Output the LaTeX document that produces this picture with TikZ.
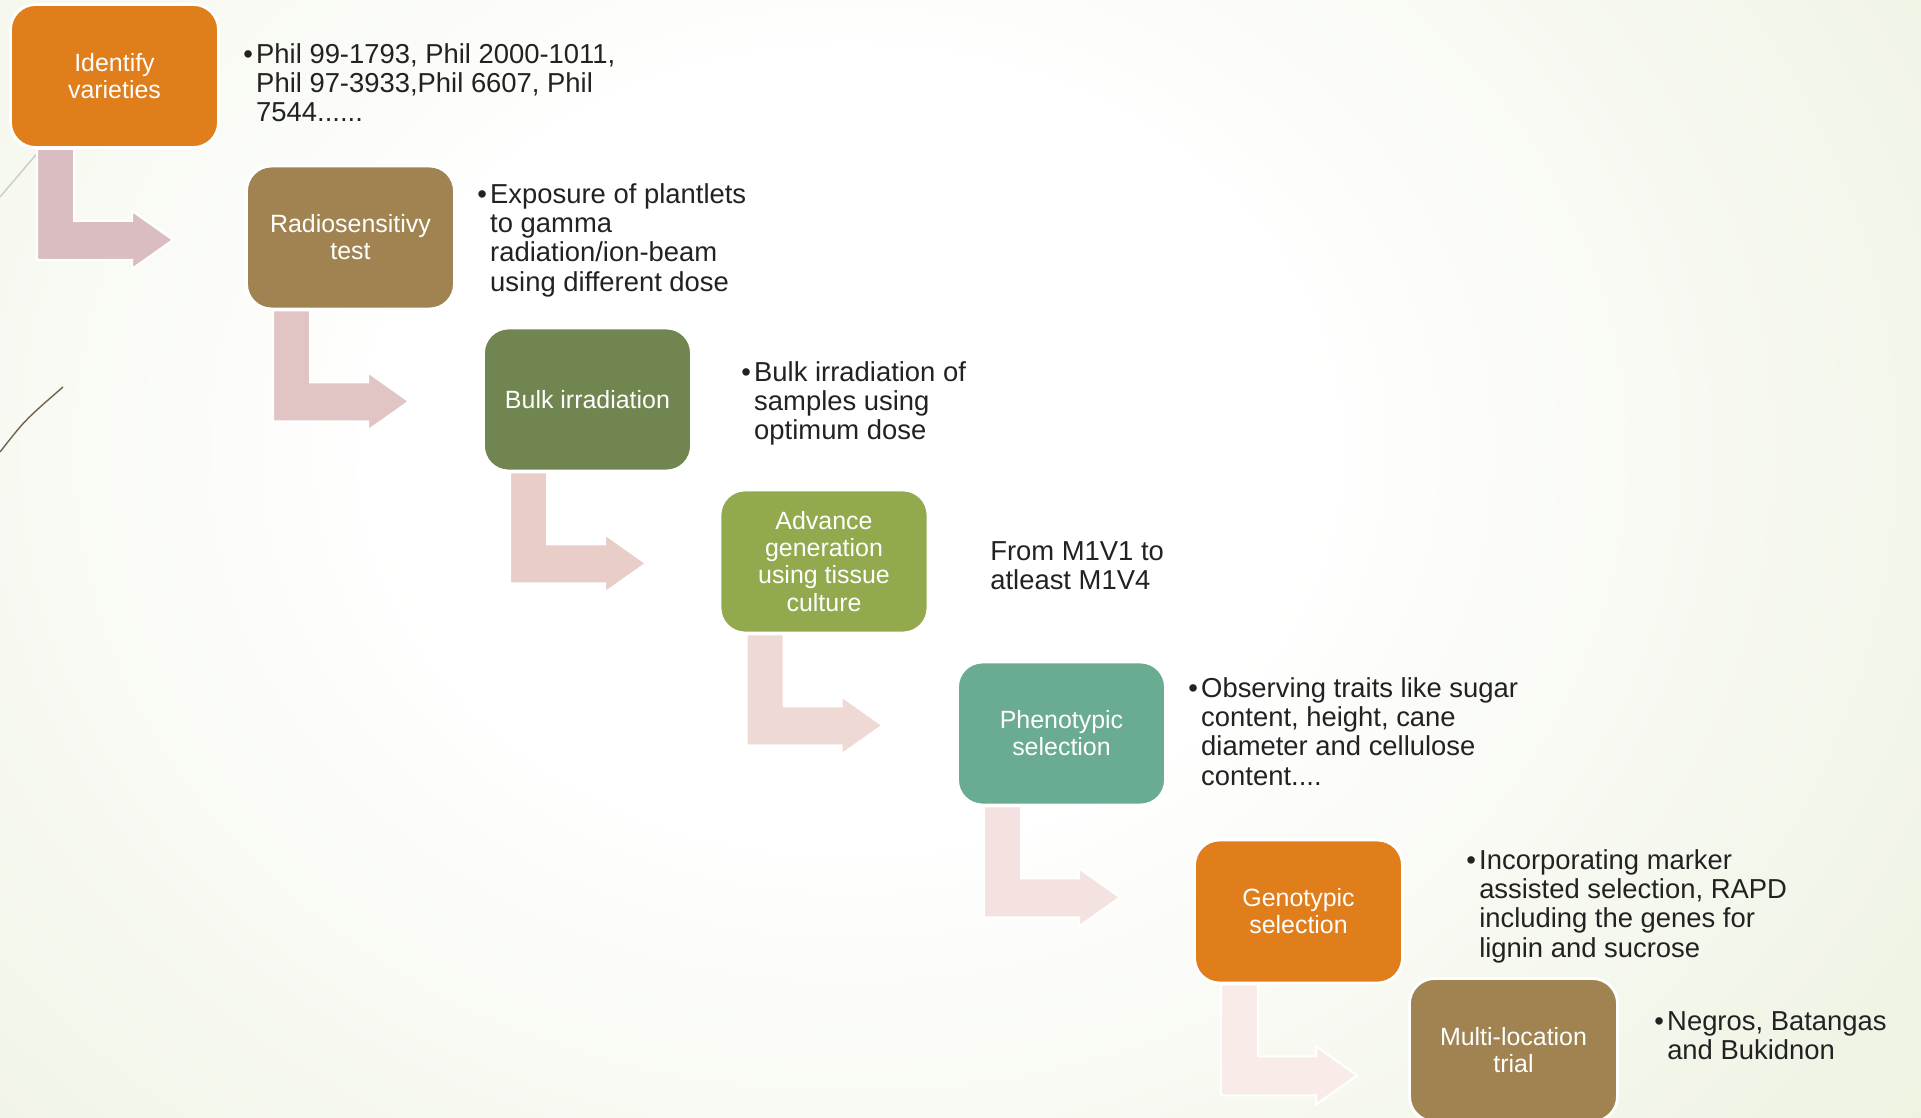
\documentclass[tikz,border=0pt]{standalone}
\usepackage{fontspec}
\setmainfont{Liberation Sans}
\usetikzlibrary{calc}

\definecolor{bgedge}{HTML}{E1EACA}
\definecolor{bgmid}{HTML}{EDF2E0}
\definecolor{orangebox}{HTML}{DF7E1B}
\definecolor{brownbox}{HTML}{A08350}
\definecolor{darkgreenbox}{HTML}{718550}
\definecolor{olivebox}{HTML}{93A94E}
\definecolor{tealbox}{HTML}{6AAC91}
\definecolor{arrowA}{HTML}{D9BDC0}
\definecolor{arrowB}{HTML}{E1C5C5}
\definecolor{arrowC}{HTML}{E8CDC9}
\definecolor{arrowD}{HTML}{EED9D5}
\definecolor{arrowE}{HTML}{F3E2DF}
\definecolor{arrowF}{HTML}{F8EBE8}
\definecolor{notetext}{HTML}{222222}
\definecolor{stroke}{HTML}{6E6450}

\pgfdeclareradialshading{slidebg}{\pgfpoint{0bp}{0bp}}{color(0bp)=(white); color(10bp)=(white); color(30bp)=(bgmid); color(50bp)=(bgedge); color(100bp)=(bgedge)}

\newcommand{\bulpad}{\hphantom{\textbullet\hspace{0.12em}}}
\newcommand{\bul}{\textbullet\hspace{0.12em}}

\tikzset{
  stepbox/.style={rounded corners=0.5cm, draw=white, line width=1.6pt, minimum width=4.16cm,
    minimum height=2.86cm, align=center, text=white, font=\fontsize{14.2}{15.4}\selectfont},
  note/.style={anchor=north west, inner sep=0pt, align=left, text=notetext,
    font=\fontsize{15.6}{16.7}\selectfont},
  bent/.style={fill=#1, draw=white, line width=1.2pt},
}

\newcommand{\bentarrow}[2]{%
  \begin{scope}[shift={(#1.south west)}]
    \path[bent=#2] (28,0) -- (65,0) -- (65,72) -- (123,72) -- (123,62) -- (164,91)
      -- (123,120) -- (123,111) -- (28,111) -- cycle;
  \end{scope}}

\begin{document}
\begin{tikzpicture}[x=0.02cm,y=-0.02cm]
\useasboundingbox (0,0) rectangle (1921,1118);
\clip (0,0) rectangle (1921,1118);
\shade[shading=slidebg] (-300,-500) rectangle (2000,1400);

\draw[color=black!20, line width=0.8pt] (0,197) -- (40,150);
\draw[color=stroke, line width=0.8pt] (0,452) .. controls (25,420) .. (63,387);

\node[stepbox, fill=orangebox] (ident) at (114.5,76) {Identify\\varieties};
\node[stepbox, fill=brownbox] (radio) at (350.5,237.5) {Radiosensitivy\\test};
\node[stepbox, fill=darkgreenbox] (bulk) at (587.5,399.5) {Bulk irradiation};
\node[stepbox, fill=olivebox] (advance) at (824,561.5) {Advance\\generation\\using tissue\\culture};
\node[stepbox, fill=tealbox] (pheno) at (1061.5,733.5) {Phenotypic\\selection};
\node[stepbox, fill=orangebox] (geno) at (1298.5,911.5) {Genotypic\\selection};
\node[stepbox, fill=brownbox] (multi) at (1513.5,1050) {Multi-location\\trial};

\bentarrow{ident}{arrowA}
\bentarrow{radio}{arrowB}
\bentarrow{bulk}{arrowC}
\bentarrow{advance}{arrowD}
\bentarrow{pheno}{arrowE}
\bentarrow{geno}{arrowF}

\node[note] (identnote) at (243,43) {\bul Phil 99-1793, Phil 2000-1011,\\\bulpad Phil 97-3933,Phil 6607, Phil\\\bulpad 7544......};
\node[note] (radionote) at (477,183) {\bul Exposure of plantlets\\\bulpad to gamma\\\bulpad radiation/ion-beam\\\bulpad using different dose};
\node[note] (bulknote) at (741,361) {\bul Bulk irradiation of\\\bulpad samples using\\\bulpad optimum dose};
\node[note] (advancenote) at (990,541) {From M1V1 to\\atleast M1V4};
\node[note] (phenonote) at (1188,677) {\bul Observing traits like sugar\\\bulpad content, height, cane\\\bulpad diameter and cellulose\\\bulpad content....};
\node[note] (genonote) at (1466,849) {\bul Incorporating marker\\\bulpad assisted selection, RAPD\\\bulpad including the genes for\\\bulpad lignin and sucrose};
\node[note] (multinote) at (1654,1011) {\bul Negros, Batangas\\\bulpad and Bukidnon};
\end{tikzpicture}
\end{document}
